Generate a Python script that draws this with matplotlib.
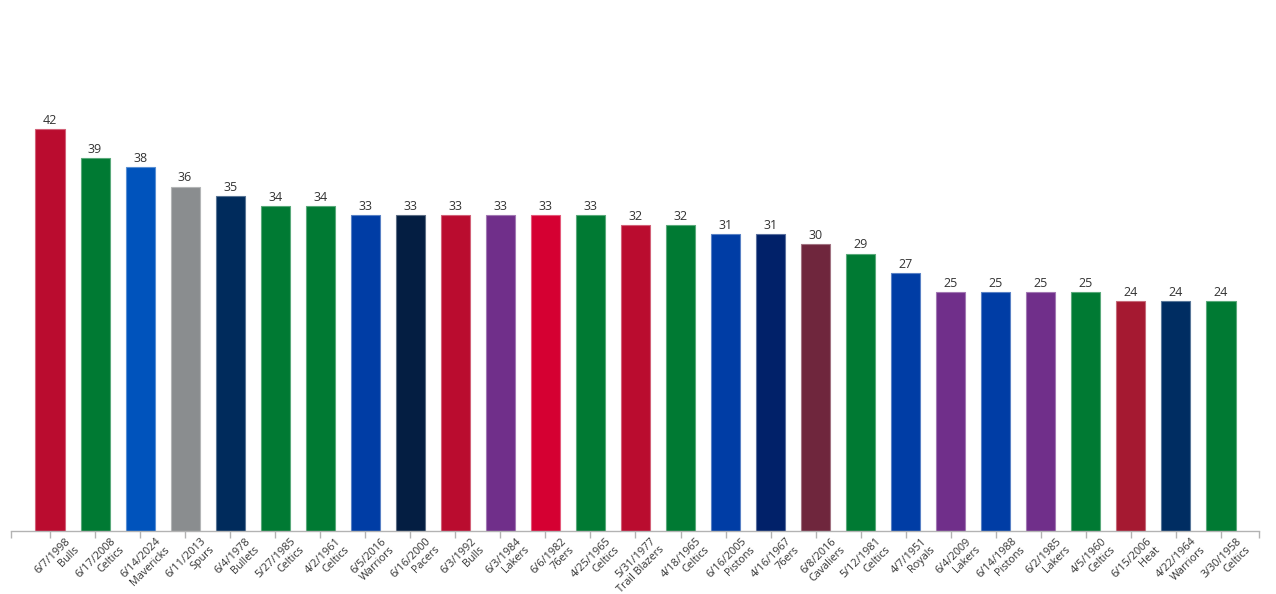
import matplotlib
matplotlib.use("Agg")
import matplotlib.pyplot as plt
import matplotlib.colors as mcolors
import numpy as np

dates = ["6/7/1998", "6/17/2008", "6/14/2024", "6/11/2013", "6/4/1978", "5/27/1985",
         "4/2/1961", "6/5/2016", "6/16/2000", "6/3/1992", "6/3/1984", "6/6/1982",
         "4/25/1965", "5/31/1977", "4/18/1965", "6/16/2005", "4/16/1967", "6/8/2016",
         "5/12/1981", "4/7/1951", "6/4/2009", "6/14/1988", "6/2/1985", "4/5/1960",
         "6/15/2006", "4/22/1964", "3/30/1958"]
teams = ["Bulls", "Celtics", "Mavericks", "Spurs", "Bullets", "Celtics",
         "Celtics", "Warriors", "Pacers", "Bulls", "Lakers", "76ers",
         "Celtics", "Trail Blazers", "Celtics", "Pistons", "76ers", "Cavaliers",
         "Celtics", "Royals", "Lakers", "Pistons", "Lakers", "Celtics",
         "Heat", "Warriors", "Celtics"]
values = [42, 39, 38, 36, 35, 34, 34, 33, 33, 33, 33, 33, 33, 32, 32, 31, 31, 30,
          29, 27, 25, 25, 25, 25, 24, 24, 24]
colors = ["#BA0C2F", "#007A33", "#0053BC", "#8A8D8F", "#002B5C", "#007A33",
          "#007A33", "#003DA5", "#041E42", "#BA0C2F", "#702F8A", "#D50032",
          "#007A33", "#BA0C2F", "#007A33", "#003DA5", "#012169", "#6F263D",
          "#007A33", "#003DA5", "#702F8A", "#003DA5", "#702F8A", "#007A33",
          "#A51931", "#002D62", "#007A33"]

plt.rcParams['font.family'] = ['Open Sans', 'DejaVu Sans']

fig = plt.figure(figsize=(12.76, 5.94), dpi=100)
ax = fig.add_axes([11/1276, 63/594, (1259-11)/1276, 531/594])

x = np.arange(len(values))
def lighten(c, a=0.35):
    r, g, b = mcolors.to_rgb(c)
    return (r + (1-r)*a, g + (1-g)*a, b + (1-b)*a)

ax.bar(x, values, width=0.645, color=colors,
       edgecolor=[lighten(c) for c in colors], linewidth=0.8, zorder=2)

for xi, v in zip(x, values):
    ax.annotate(str(v), (xi, v), xytext=(0, 1.5), textcoords="offset points",
                ha="center", va="bottom", fontsize=9, color="#333333")

ax.set_xlim(-0.866, len(values) - 1 + 0.844)
ax.set_ylim(0, 55.5)

for s in ["top", "right", "left"]:
    ax.spines[s].set_visible(False)
ax.spines["bottom"].set_color("#b3b3b3")
ax.spines["bottom"].set_linewidth(1)
ax.set_yticks([])

ax.set_xticks(list(x) + [ax.get_xlim()[0], ax.get_xlim()[1]])
ax.tick_params(axis="x", length=5, color="#b3b3b3", width=1, labelbottom=False)

for xi, d, t in zip(x, dates, teams):
    ax.annotate(d + "\n" + t, (xi, 0), xytext=(11, -3.5), textcoords="offset points",
                rotation=45, rotation_mode="anchor", ha="right", va="top",
                multialignment="right", fontsize=7.8, color="#333333",
                linespacing=1.1, annotation_clip=False)

fig.savefig("out.png", dpi=100)
